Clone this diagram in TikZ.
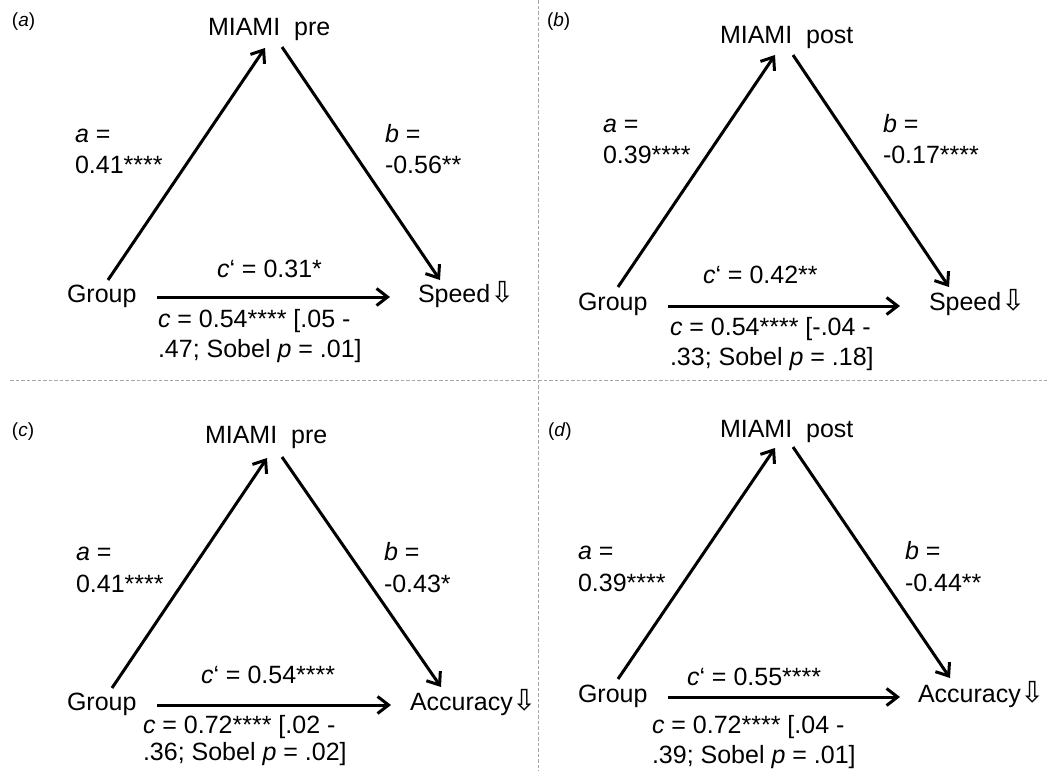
\documentclass[tikz,border=0pt]{standalone}
\usepackage{fontspec}
\setmainfont{Liberation Sans}
\newfontfamily\symfont{DejaVu Sans}
\usetikzlibrary{arrows.meta,calc}
\tikzset{
 txt/.style={inner sep=0pt, outer sep=0pt, anchor=base west, font=\fontsize{25}{29}\selectfont},
 plab/.style={inner sep=0pt, outer sep=0pt, anchor=base west, font=\fontsize{19}{21}\selectfont},
 arr/.style={line width=3pt, -{Straight Barb[length=11pt,width=17pt]}},
 sepline/.style={draw=gray!70, line width=1pt, dash pattern=on 3.5pt off 2pt}
}
\newcommand{\downsym}{{\symfont\fontsize{29}{29}\selectfont ⇩}}
\begin{document}
\begin{tikzpicture}[x=1pt,y=-1pt]
\useasboundingbox (0,0) rectangle (1047,771);
% separators
\draw[sepline] (10,380) -- (1047,380);
\draw[sepline] (538,0) -- (538,771);

% ---------- panel (a)
\node[plab] (pa) at (12,26) {(\textit{a})};
\node[txt] (m1) at (208,35) {MIAMI\ \ pre};
\node[txt] (g1) at (67,302) {Group};
\node[txt] (s1) at (418,302) {Speed\downsym};
\node[txt] (a1) at (75,142) {\textit{a} =};
\node[txt] (a1v) at (75,173) {0.41****};
\node[txt] (b1) at (385,142) {\textit{b} =};
\node[txt] (b1v) at (385,173) {-0.56**};
\node[txt] (cp1) at (217,277) {\textit{c}‘ = 0.31*};
\node[txt] (c1) at (158,327) {\textit{c} = 0.54**** [.05 -};
\node[txt] (c1b) at (158,357) {.47; Sobel \textit{p} = .01]};
\draw[arr] ($(g1.base west)+(41,-22)$) -- ($(m1.base west)+(57,13)$);
\draw[arr] ($(m1.base west)+(74,12)$) -- ($(s1.base west)+(22,-22)$);
\draw[arr] ($(g1.base west)+(90,-5)$) -- ($(s1.base west)+(-28,-5)$);

% ---------- panel (b)
\node[plab] (pb) at (547,26) {(\textit{b})};
\node[txt] (m2) at (720,43) {MIAMI\ \ post};
\node[txt] (g2) at (578,310) {Group};
\node[txt] (s2) at (929,310) {Speed\downsym};
\node[txt] (a2) at (603,132) {\textit{a} =};
\node[txt] (a2v) at (603,163) {0.39****};
\node[txt] (b2) at (883,132) {\textit{b} =};
\node[txt] (b2v) at (883,163) {-0.17****};
\node[txt] (cp2) at (703,283) {\textit{c}‘ = 0.42**};
\node[txt] (c2) at (670,335) {\textit{c} = 0.54**** [-.04 -};
\node[txt] (c2b) at (670,365) {.33; Sobel \textit{p} = .18]};
\draw[arr] ($(g2.base west)+(40,-23)$) -- ($(m2.base west)+(55,12)$);
\draw[arr] ($(m2.base west)+(73,12)$) -- ($(s2.base west)+(20,-23)$);
\draw[arr] ($(g2.base west)+(90,-4)$) -- ($(s2.base west)+(-29,-4)$);

% ---------- panel (c)
\node[plab] (pc) at (12,436) {(\textit{c})};
\node[txt] (m3) at (205,443) {MIAMI\ \ pre};
\node[txt] (g3) at (67,710) {Group};
\node[txt] (s3) at (410,710) {Accuracy\downsym};
\node[txt] (a3) at (76,560) {\textit{a} =};
\node[txt] (a3v) at (76,592) {0.41****};
\node[txt] (b3) at (384,560) {\textit{b} =};
\node[txt] (b3v) at (384,592) {-0.43*};
\node[txt] (cp3) at (201,683) {\textit{c}‘ = 0.54****};
\node[txt] (c3) at (143,733) {\textit{c} = 0.72**** [.02 -};
\node[txt] (c3b) at (143,760) {.36; Sobel \textit{p} = .02]};
\draw[arr] ($(g3.base west)+(45,-22)$) -- ($(m3.base west)+(62,15)$);
\draw[arr] ($(m3.base west)+(77,14)$) -- ($(s3.base west)+(31,-23)$);
\draw[arr] ($(g3.base west)+(90,-5)$) -- ($(s3.base west)+(-19,-5)$);

% ---------- panel (d)
\node[plab] (pd) at (548,436) {(\textit{d})};
\node[txt] (m4) at (720,437) {MIAMI\ \ post};
\node[txt] (g4) at (578,702) {Group};
\node[txt] (s4) at (918,702) {Accuracy\downsym};
\node[txt] (a4) at (578,559) {\textit{a} =};
\node[txt] (a4v) at (578,591) {0.39****};
\node[txt] (b4) at (905,559) {\textit{b} =};
\node[txt] (b4v) at (905,591) {-0.44**};
\node[txt] (cp4) at (687,685) {\textit{c}‘ = 0.55****};
\node[txt] (c4) at (652,733) {\textit{c} = 0.72**** [.04 -};
\node[txt] (c4b) at (652,763) {.39; Sobel \textit{p} = .01]};
\draw[arr] ($(g4.base west)+(40,-23)$) -- ($(m4.base west)+(55,11)$);
\draw[arr] ($(m4.base west)+(73,10)$) -- ($(s4.base west)+(32,-24)$);
\draw[arr] ($(g4.base west)+(90,-5)$) -- ($(s4.base west)+(-18,-5)$);
\end{tikzpicture}
\end{document}
